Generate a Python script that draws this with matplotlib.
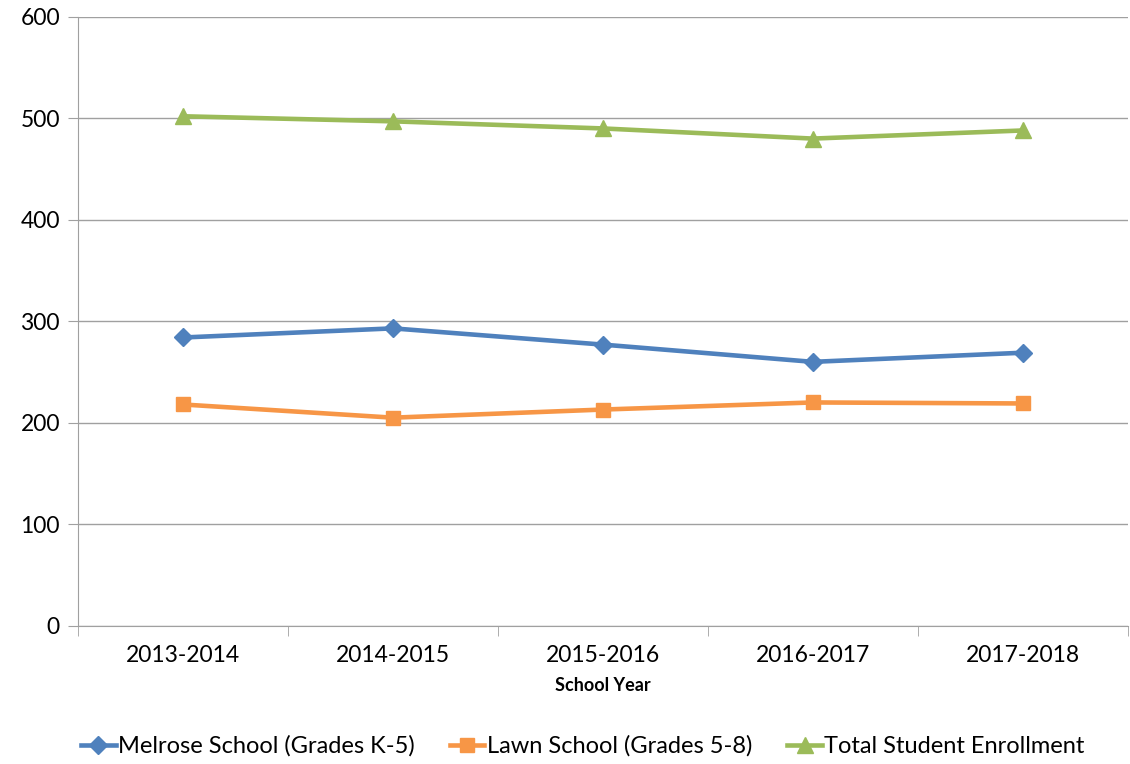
import matplotlib.pyplot as plt
from matplotlib.ticker import FixedLocator

years = ['2013-2014', '2014-2015', '2015-2016', '2016-2017', '2017-2018']
melrose = [284, 293, 277, 260, 269]
lawn = [218, 205, 213, 220, 219]
total = [502, 497, 490, 480, 488]

plt.rcParams['font.family'] = ['Lato', 'DejaVu Sans']

fig = plt.figure(figsize=(11.3, 7.64), dpi=100)
ax = fig.add_axes([0.069, 0.181, 0.929, 0.797])

x = range(len(years))
ax.plot(x, melrose, color='#4F81BD', lw=3.3, marker='D', ms=9, label='Melrose School (Grades K-5)')
ax.plot(x, lawn, color='#F79646', lw=3.3, marker='s', ms=10, label='Lawn School (Grades 5-8)')
ax.plot(x, total, color='#9BBB59', lw=3.3, marker='^', ms=11, label='Total Student Enrollment')

ax.set_xlim(-0.5, len(years) - 0.5)
ax.set_ylim(0, 600)
ax.set_yticks(range(0, 601, 100))
ax.set_xticks(list(x))
ax.set_xticklabels(years, fontsize=16.5)
ax.xaxis.set_minor_locator(FixedLocator([i - 0.5 for i in range(len(years) + 1)]))
ax.tick_params(axis='x', which='major', length=0, pad=14)
ax.tick_params(axis='x', which='minor', length=7, color='#A0A0A0', direction='out')
ax.tick_params(axis='y', labelsize=16.5, length=7, color='#A0A0A0', pad=6)
ax.grid(axis='y', color='#A0A0A0', lw=1)
ax.set_axisbelow(True)
for side in ['top', 'right']:
    ax.spines[side].set_visible(False)
for side in ['left', 'bottom']:
    ax.spines[side].set_color('#A0A0A0')
ax.set_xlabel('School Year', fontsize=13, fontweight='bold', labelpad=8)

ax.legend(loc='upper center', bbox_to_anchor=(0.481, -0.145), ncol=3, frameon=False,
          fontsize=17, handlelength=1.45, handletextpad=0.1, columnspacing=1.5)

fig.savefig('out.png')
